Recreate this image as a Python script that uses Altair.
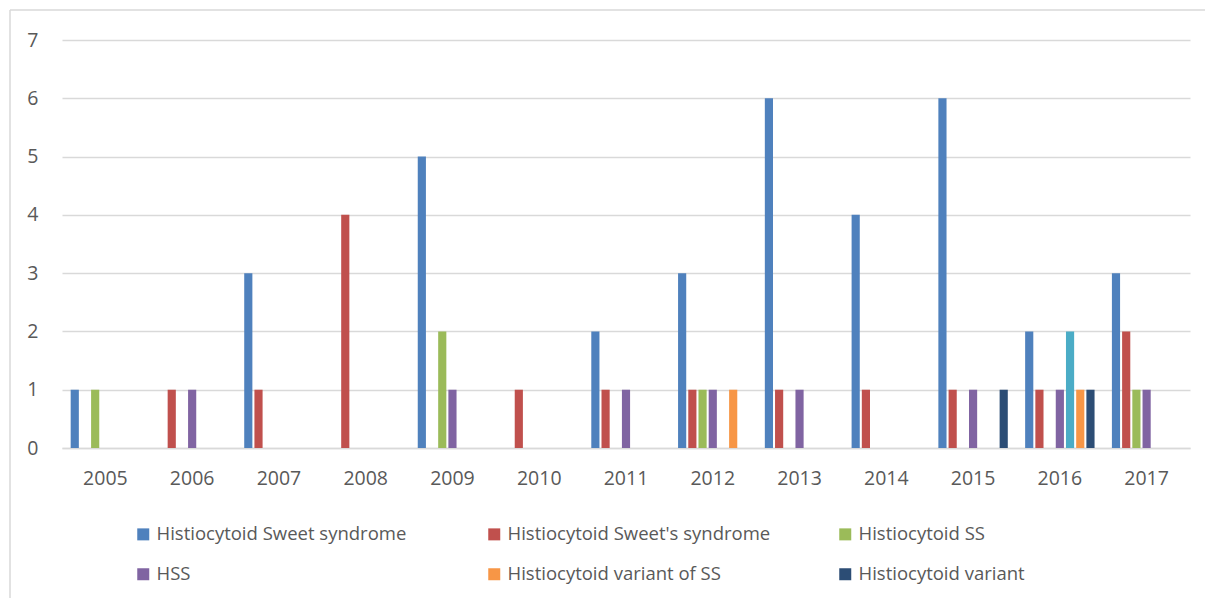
import altair as alt
import pandas as pd

years = ["2005", "2006", "2007", "2008", "2009", "2010", "2011",
         "2012", "2013", "2014", "2015", "2016", "2017"]

series = [
    "Histiocytoid Sweet syndrome",
    "Histiocytoid Sweet's syndrome",
    "Histiocytoid SS",
    "HSS",
    "Histiocytoid Sweet",
    "Histiocytoid variant of SS",
    "Histiocytoid variant",
]
legend_series = [s for s in series if s != "Histiocytoid Sweet"]

colors = ["#4F81BD", "#C0504D", "#9BBB59", "#8064A2", "#4BACC6", "#F79646", "#2C4D75"]

sweet_syndrome   = [1, 0, 3, 0, 5, 0, 2, 3, 6, 4, 6, 2, 3]
sweets_syndrome  = [0, 1, 1, 4, 0, 1, 1, 1, 1, 1, 1, 1, 2]
hist_ss          = [1, 0, 0, 0, 2, 0, 0, 1, 0, 0, 0, 0, 1]
hss              = [0, 1, 0, 0, 1, 0, 1, 1, 1, 0, 1, 1, 1]
hist_sweet       = [0, 0, 0, 0, 0, 0, 0, 0, 0, 0, 0, 2, 0]
variant_of_ss    = [0, 0, 0, 0, 0, 0, 0, 1, 0, 0, 0, 1, 0]
variant          = [0, 0, 0, 0, 0, 0, 0, 0, 0, 0, 1, 1, 0]

values = [sweet_syndrome, sweets_syndrome, hist_ss, hss, hist_sweet, variant_of_ss, variant]

rows = []
for s, vals in zip(series, values):
    for y, v in zip(years, vals):
        rows.append({"year": y, "series": s, "value": v})
df = pd.DataFrame(rows)

FONT = "Open Sans"
GRID = "#D9D9D9"
TEXT = "#595959"

bars = alt.Chart(df).mark_bar().encode(
    x=alt.X("year:N", sort=years,
            scale=alt.Scale(paddingInner=0, paddingOuter=0),
            axis=alt.Axis(title=None, labelAngle=0, ticks=False, domain=True,
                          domainColor=GRID, domainWidth=1.5,
                          labelPadding=21, labelFontSize=19.5, labelColor=TEXT,
                          labelFont=FONT)),
    xOffset=alt.XOffset("series:N", sort=series,
                        scale=alt.Scale(domain=series, paddingInner=0.2, paddingOuter=0.85)),
    y=alt.Y("value:Q",
            scale=alt.Scale(domain=[0, 7], nice=False),
            axis=alt.Axis(title=None, values=[0, 1, 2, 3, 4, 5, 6, 7], ticks=False,
                          domain=False, grid=True, gridColor=GRID, gridWidth=1.5,
                          labelPadding=24, labelFontSize=19.5, labelColor=TEXT,
                          labelFont=FONT)),
    color=alt.Color("series:N",
                    scale=alt.Scale(domain=series, range=colors),
                    legend=alt.Legend(title=None, values=legend_series, orient="none",
                                      legendX=72, legendY=485, direction="horizontal",
                                      columns=3, gridAlign="all", columnPadding=65,
                                      rowPadding=21, symbolType="square", symbolSize=144,
                                      symbolStrokeWidth=0, labelOffset=4,
                                      labelFontSize=18.5, labelColor=TEXT, labelFont=FONT,
                                      labelLimit=400)),
)

frame_df = pd.DataFrame({"k": [0]})
frame_left = alt.Chart(frame_df).mark_rule(color=GRID, strokeWidth=1.5).encode(
    x=alt.value(-52), y=alt.value(-30), y2=alt.value(560))
frame_top = alt.Chart(frame_df).mark_rule(color=GRID, strokeWidth=1.5).encode(
    x=alt.value(-52), x2=alt.value(1160), y=alt.value(-30))

chart = alt.layer(bars, frame_left, frame_top).properties(
    width=1128, height=408,
    padding={"left": 54, "top": 32, "right": 15, "bottom": 150},
    autosize=alt.AutoSizeParams(type="none"),
).configure(font=FONT).configure_view(strokeWidth=0)

chart.save("out.html", embed_options={"renderer": "svg", "actions": False})
